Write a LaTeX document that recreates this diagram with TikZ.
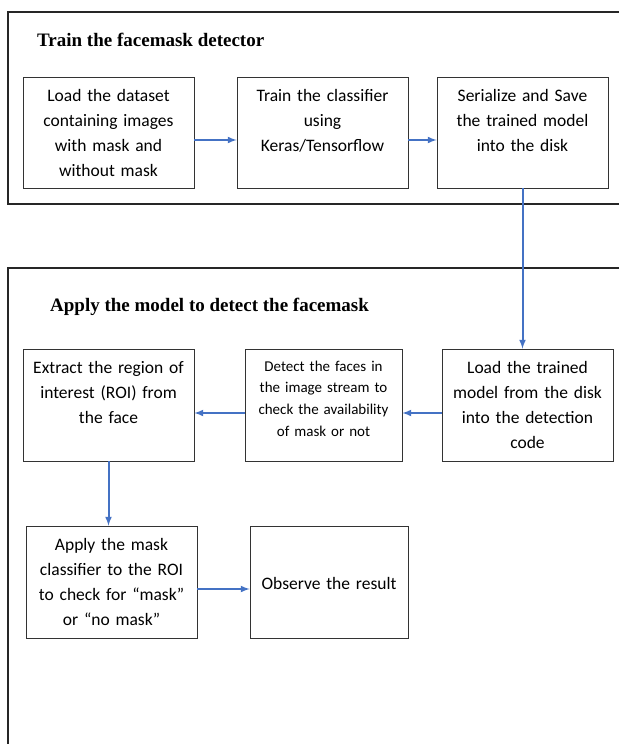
\documentclass[tikz,border=0pt]{standalone}
\usepackage{fontspec}
\setmainfont{Carlito}
\newfontfamily\titlefont{Liberation Serif}
\definecolor{flowblue}{HTML}{4472C4}
\tikzset{
  panel/.style={line width=2.2pt, black!85},
  stepbox/.style={draw=black!80, line width=0.8pt, inner sep=0pt, minimum width=171pt,
    text width=165pt, align=center, font=\fontsize{17.5}{25}\selectfont,
    text height=24pt, text depth=88pt},
  flow/.style={line width=2pt, flowblue, -latex},
  title/.style={font=\titlefont\bfseries\fontsize{19}{22}\selectfont, anchor=base west, inner sep=0pt},
}
\begin{document}
\begin{tikzpicture}[x=1pt,y=-1pt]
    \useasboundingbox (0,0) rectangle (619,744);
    % the two panels, cut off at the right and at the bottom
    \draw [panel] (619,12) -- (8,12) -- (8,204) -- (619,204);
    \draw [panel] (619,268) -- (8,268) -- (8,744);
    \node [title] (TrainTitle) at (37,46) {Train the facemask detector};
    \node [title] (ApplyTitle) at (50,311) {Apply the model to detect the facemask};
    % training steps
    \node [stepbox, text depth=87pt] (LoadData)   at (108.5,132.5) {Load the dataset\\containing images\\with mask and\\without mask};
    \node [stepbox, text depth=87pt] (TrainModel) at (322.5,132.5) {Train the classifier\\using\\Keras/Tensorflow};
    \node [stepbox, text depth=87pt] (SaveModel)  at (522.5,132.5) {Serialize and Save\\the trained model\\into the disk};
    % detection steps
    \node [stepbox] (LoadModel) at (527.5,405) {Load the trained\\model from the disk\\into the detection\\code};
    \node [stepbox, minimum width=157pt, text width=150pt, font=\fontsize{15}{21.7}\selectfont,
           text height=22pt, text depth=90pt] (DetectFaces) at (323.5,405) {Detect the faces in\\the image stream to\\check the availability\\of mask or not};
    \node [stepbox] (ExtractROI) at (108.5,405) {Extract the region of\\interest (ROI) from\\the face};
    \node [stepbox] (ApplyMask) at (111.5,582) {Apply the mask\\classifier to the ROI\\to check for “mask”\\or “no mask”};
    \node [stepbox, minimum width=158pt, text width=150pt, text height=63pt, text depth=49pt] (Observe) at (329,582) {Observe the result};
    % connectors
    \draw [flow] ([yshift=-7.5pt]LoadData.east) -- ([yshift=-7.5pt]TrainModel.west);
    \draw [flow] ([yshift=-7.5pt]TrainModel.east) -- ([yshift=-7.5pt]SaveModel.west);
    \draw [flow] (SaveModel.south) -- (SaveModel.south |- LoadModel.north);
    \draw [flow] ([yshift=-8pt]LoadModel.west) -- ([yshift=-8pt]DetectFaces.east);
    \draw [flow] ([yshift=-8pt]DetectFaces.west) -- ([yshift=-8pt]ExtractROI.east);
    \draw [flow] (ExtractROI.south) -- (ExtractROI.south |- ApplyMask.north);
    \draw [flow] ([yshift=-7pt]ApplyMask.east) -- ([yshift=-7pt]Observe.west);
\end{tikzpicture}
\end{document}
